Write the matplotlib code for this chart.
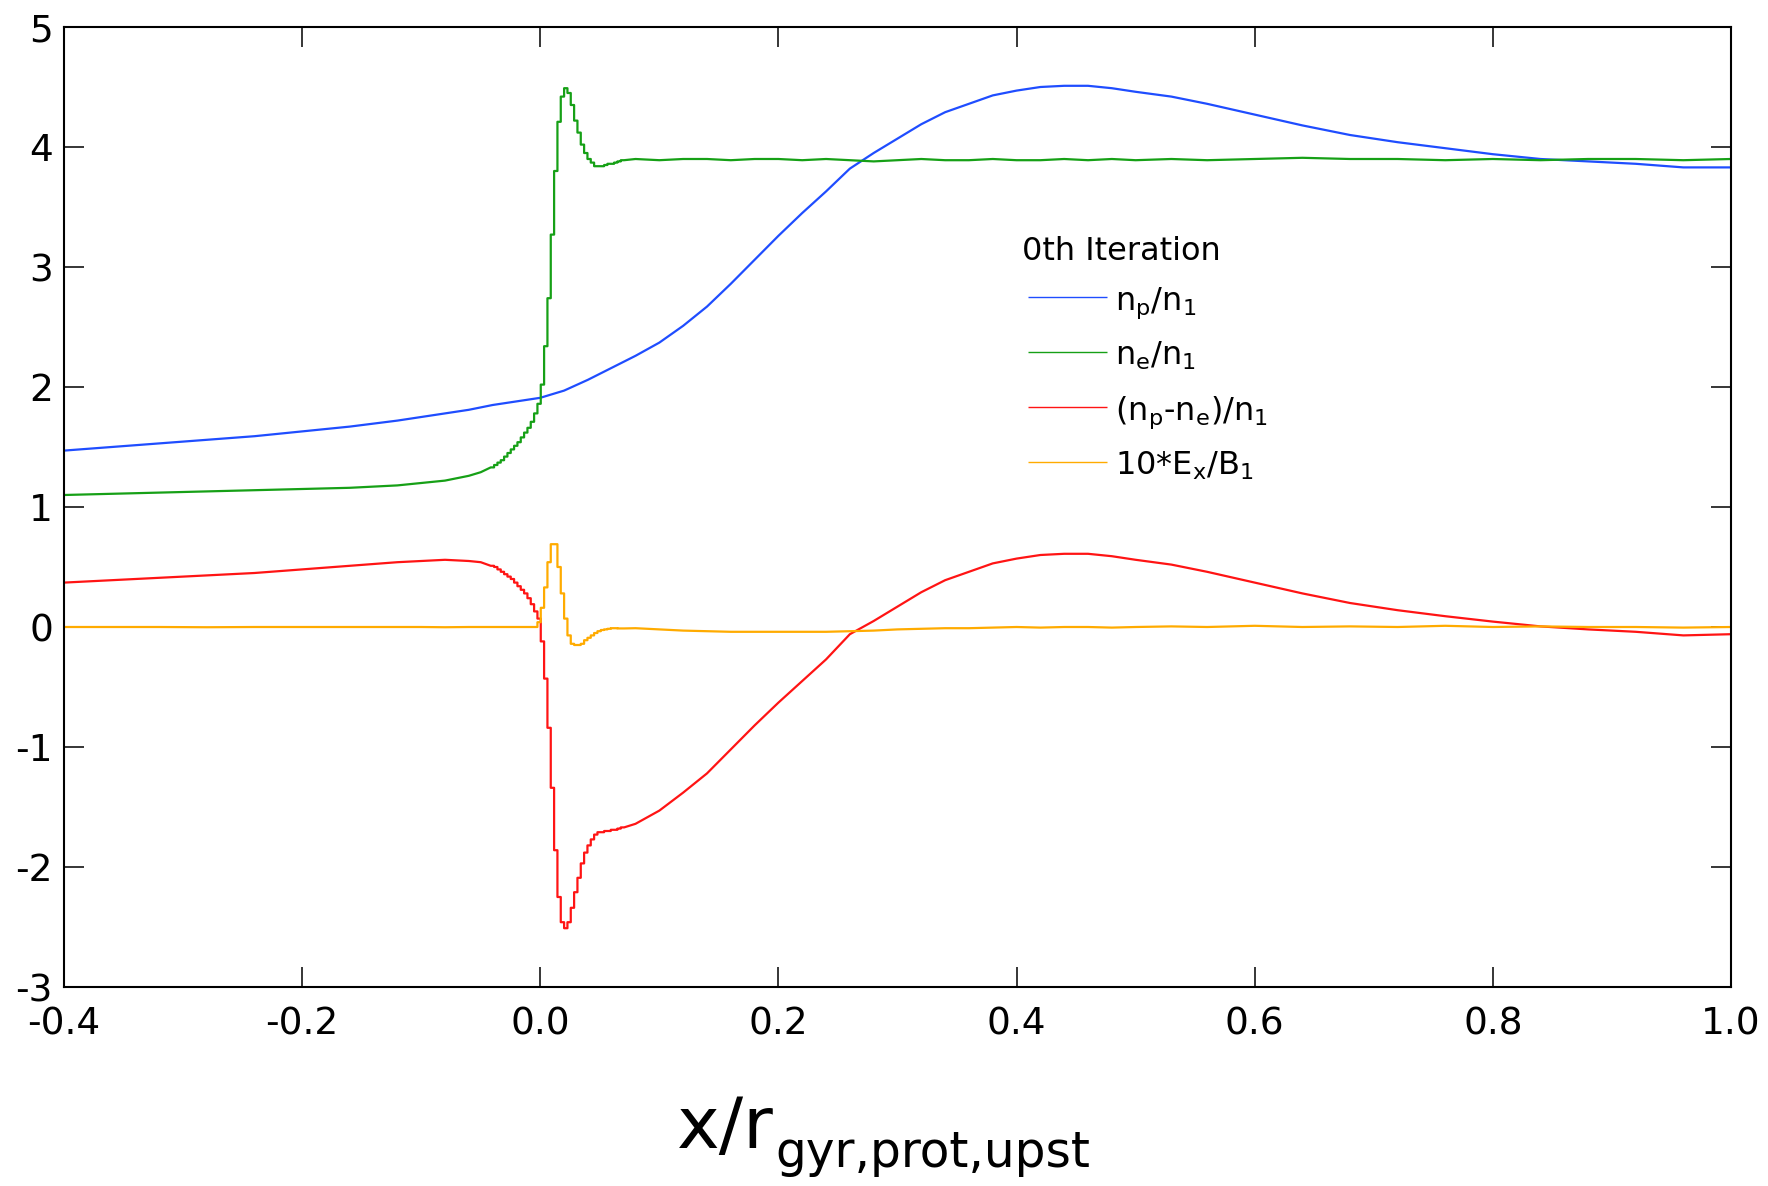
import numpy as np
import matplotlib
matplotlib.use("Agg")
import matplotlib.pyplot as plt
from matplotlib.ticker import FormatStrFormatter, MultipleLocator

plt.rcParams["font.family"] = ["DejaVu Sans"]
plt.rcParams["axes.unicode_minus"] = False
plt.rcParams["mathtext.default"] = "regular"

# ---- upstream (smooth) part of the profiles ----
x_left = [-0.40, -0.36, -0.32, -0.28, -0.24, -0.20, -0.16, -0.12, -0.10, -0.08, -0.06, -0.05]
blue_left = [1.47, 1.50, 1.53, 1.56, 1.59, 1.63, 1.67, 1.72, 1.75, 1.78, 1.81, 1.83]
green_left = [1.10, 1.11, 1.12, 1.13, 1.14, 1.15, 1.16, 1.18, 1.20, 1.22, 1.26, 1.29]
red_left = [0.37, 0.39, 0.41, 0.43, 0.45, 0.48, 0.51, 0.54, 0.55, 0.56, 0.55, 0.54]
orange_left = [0.0, 0.0, 0.0, -0.002, 0.0, 0.0, 0.0, 0.0, 0.0, -0.002, 0.0, 0.0]

# ---- shock ramp: cell-by-cell values (cell width 0.0028) ----
cell_lo, cell_hi, n_cells = -0.0416, 0.0704, 40
green_cells = [1.33, 1.35, 1.37, 1.39, 1.42, 1.45, 1.48, 1.51, 1.54, 1.58, 1.62, 1.66, 1.71, 1.78, 1.86,
               2.02, 2.34, 2.74, 3.27, 3.80, 4.21, 4.42, 4.49, 4.45, 4.35, 4.22, 4.12, 4.02, 3.95, 3.90,
               3.87, 3.84, 3.84, 3.84, 3.85, 3.86, 3.86, 3.87, 3.88, 3.89]
red_cells = [0.51, 0.50, 0.48, 0.46, 0.44, 0.42, 0.40, 0.37, 0.34, 0.31, 0.28, 0.24, 0.19, 0.13, 0.07,
             -0.12, -0.43, -0.84, -1.34, -1.86, -2.25, -2.46, -2.51, -2.46, -2.34, -2.21, -2.09, -1.97,
             -1.88, -1.82, -1.77, -1.73, -1.71, -1.71, -1.70, -1.70, -1.69, -1.69, -1.68, -1.67]
orange_cells = [0.0, 0.0, 0.0, 0.0, 0.0, 0.0, 0.0, 0.0, 0.0, 0.0, 0.0, 0.0, 0.0, 0.0, 0.04,
                0.16, 0.33, 0.54, 0.69, 0.69, 0.50, 0.28, 0.07, -0.07, -0.14, -0.15, -0.15, -0.14,
                -0.11, -0.09, -0.07, -0.05, -0.035, -0.025, -0.02, -0.015, -0.01, -0.01, -0.012, -0.012]

# proton density is smooth through the ramp
x_mid = [-0.04, -0.02, 0.0, 0.02, 0.04, 0.06]
blue_mid = [1.85, 1.88, 1.91, 1.97, 2.06, 2.16]

# ---- downstream part ----
x_right = [0.08, 0.10, 0.12, 0.14, 0.16, 0.18, 0.20, 0.22, 0.24, 0.26, 0.28, 0.30, 0.32, 0.34,
           0.36, 0.38, 0.40, 0.42, 0.44, 0.46, 0.48, 0.50, 0.53, 0.56, 0.60, 0.64, 0.68, 0.72,
           0.76, 0.80, 0.84, 0.88, 0.92, 0.96, 1.00]
blue_right = [2.26, 2.37, 2.51, 2.67, 2.86, 3.06, 3.26, 3.45, 3.63, 3.82, 3.95, 4.07, 4.19, 4.29,
              4.36, 4.43, 4.47, 4.50, 4.51, 4.51, 4.49, 4.46, 4.42, 4.36, 4.27, 4.18, 4.10, 4.04,
              3.99, 3.94, 3.90, 3.88, 3.86, 3.83, 3.83]
green_right = [3.90, 3.89, 3.90, 3.90, 3.89, 3.90, 3.90, 3.89, 3.90, 3.89, 3.88, 3.89, 3.90, 3.89,
               3.89, 3.90, 3.89, 3.89, 3.90, 3.89, 3.90, 3.89, 3.90, 3.89, 3.90, 3.91, 3.90, 3.90,
               3.89, 3.90, 3.89, 3.90, 3.90, 3.89, 3.90]
red_right = [-1.64, -1.53, -1.38, -1.22, -1.02, -0.82, -0.63, -0.45, -0.27, -0.06, 0.05, 0.17, 0.29,
             0.39, 0.46, 0.53, 0.57, 0.60, 0.61, 0.61, 0.59, 0.56, 0.52, 0.46, 0.37, 0.28, 0.20, 0.14,
             0.09, 0.045, 0.005, -0.02, -0.04, -0.07, -0.06]
orange_right = [-0.01, -0.02, -0.03, -0.035, -0.04, -0.04, -0.04, -0.04, -0.04, -0.035, -0.03, -0.02,
                -0.015, -0.01, -0.01, -0.005, 0.0, -0.005, 0.0, 0.0, -0.005, 0.0, 0.005, 0.0, 0.01,
                0.0, 0.005, 0.0, 0.01, 0.0, 0.005, 0.0, 0.0, -0.005, 0.0]

labels = [r"n$_p$/n$_1$", r"n$_e$/n$_1$", r"(n$_p$-n$_e$)/n$_1$", r"10*E$_x$/B$_1$"]
colors = ["#1f4dff", "#16a016", "#ff1414", "#ffab00"]

edges = np.linspace(cell_lo, cell_hi, n_cells + 1)


def profile(left, cells, right):
    """Join smooth upstream points, the stepped ramp cells and downstream points."""
    xs = np.concatenate([x_left, np.repeat(edges, 2)[1:-1], x_right])
    ys = np.concatenate([left, np.repeat(cells, 2), right])
    return xs, ys


fig = plt.figure(figsize=(17.68, 11.86), dpi=100)
ax = fig.add_axes([64 / 1768, 199 / 1186, 1667 / 1768, 960 / 1186])

lw = 1.6
bx = np.concatenate([x_left, x_mid, x_right])
by = np.concatenate([blue_left, blue_mid, blue_right])
ax.plot(bx, by, color=colors[0], lw=lw)
for left, cells, right, c in [(green_left, green_cells, green_right, colors[1]),
                              (red_left, red_cells, red_right, colors[2]),
                              (orange_left, orange_cells, orange_right, colors[3])]:
    xs, ys = profile(left, cells, right)
    ax.plot(xs, ys, color=c, lw=lw)

ax.set_xlim(-0.4, 1.0)
ax.set_ylim(-3, 5)
ax.xaxis.set_major_locator(MultipleLocator(0.2))
ax.yaxis.set_major_locator(MultipleLocator(1))
ax.xaxis.set_major_formatter(FormatStrFormatter("%.1f"))
ax.yaxis.set_major_formatter(FormatStrFormatter("%d"))
ax.tick_params(direction="in", length=14.5, width=1.1, top=True, right=True,
               labelsize=27, colors="black")
ax.tick_params(axis="x", pad=14)
ax.tick_params(axis="y", pad=8)
for s in ax.spines.values():
    s.set_linewidth(1.5)

# legend block
ax.text(0.5747, 0.7573, "0th Iteration", transform=ax.transAxes, fontsize=23,
        va="baseline", ha="left")
rows = [0.71875, 0.6615, 0.6042, 0.5469]
for y, lab, c in zip(rows, labels, colors):
    ax.plot([0.5783, 0.6257], [y, y], transform=ax.transAxes, color=c, lw=1.0,
            solid_capstyle="butt")
    ax.text(0.6305, y - 0.0135, lab, transform=ax.transAxes, fontsize=23,
            va="baseline", ha="left")

# axis title with large subscript
main = fig.text(677 / 1768, (1186 - 1148) / 1186, "x/r", fontsize=52, va="baseline", ha="left")
ax.annotate("gyr,prot,upst", xy=(1, 0), xycoords=main, xytext=(1, -3),
            textcoords="offset points", fontsize=35, va="baseline", ha="left")

fig.savefig("out.png", dpi=100)
